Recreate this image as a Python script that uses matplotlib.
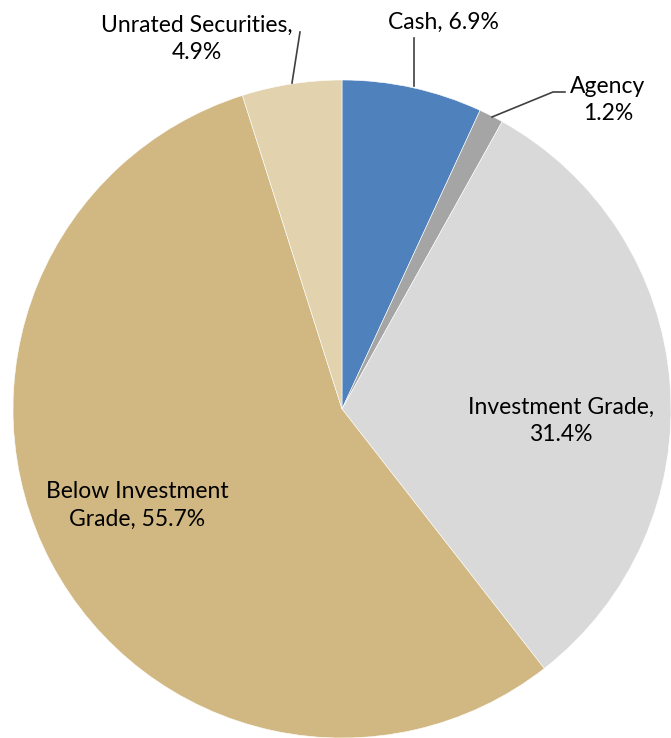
import matplotlib.pyplot as plt

categories = ['Cash', 'Agency', 'Investment Grade', 'Below Investment Grade', 'Unrated Securities']
shares = [6.9, 1.2, 31.4, 55.7, 4.9]
colors = ['#4F81BD', '#A5A5A5', '#D9D9D9', '#D1B882', '#E2D3AE']
label_texts = ['Cash, 6.9%', 'Agency\n1.2%', 'Investment Grade,\n31.4%',
               'Below Investment\nGrade, 55.7%', 'Unrated Securities,\n4.9%']

W, H = 671, 738
fig = plt.figure(figsize=(W / 100, H / 100), dpi=100)
ax = fig.add_axes([0, 0, 1, 1])

# pie in pixel coordinates (y measured upward)
ax.pie(shares, colors=colors, startangle=90, counterclock=False,
       center=(342, 329), radius=329, frame=True,
       wedgeprops=dict(edgecolor='white', linewidth=0.4))
ax.set_xlim(0, W)
ax.set_ylim(0, H)
ax.set_aspect('equal')
ax.axis('off')

def up(y):
    return H - y

font = dict(family=['Lato', 'DejaVu Sans'], fontsize=16.5, color='black',
            ha='center', va='center', linespacing=1.4)

# label positions (pixel coords, y from top)
ax.text(443, up(22), label_texts[0], **font)
ax.text(608, up(100), label_texts[1], **font)
ax.text(561, up(421), label_texts[2], **font)
ax.text(137, up(505), label_texts[3], **font)
ax.text(197, up(39), label_texts[4], **font)

# leader lines
lc = dict(color='#404040', linewidth=1.2)
ax.plot([414, 414], [up(86), up(38)], **lc)
ax.plot([492, 553, 565], [up(117), up(92), up(92)], **lc)
ax.plot([292, 300], [up(83), up(32)], **lc)

fig.savefig('out.png', dpi=100)
